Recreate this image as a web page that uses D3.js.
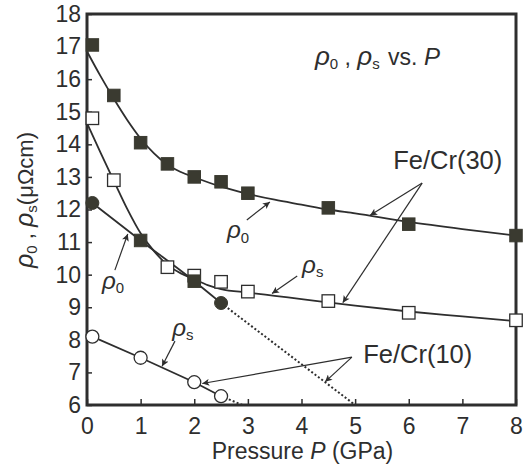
<!DOCTYPE html>
<html><head><meta charset="utf-8">
<script src="https://cdn.jsdelivr.net/npm/d3@7"></script>
<style>
html,body{margin:0;padding:0;background:#fff;}
svg{display:block;font-family:"Liberation Sans",Arial,sans-serif;}
</style></head>
<body>
<svg id="chart" width="523" height="466"></svg>
<script>
// ---------- data ----------
const pressureTicks = [0,1,2,3,4,5,6,7,8];
const rhoTicks = [6,7,8,9,10,11,12,13,14,15,16,17,18];

// Fe/Cr(30) rho0 (filled squares)
const fe30Rho0P = [0.1,0.5,1,1.5,2,2.5,3,4.5,6,8];
const fe30Rho0  = [17.05,15.5,14.05,13.4,13.0,12.85,12.5,12.05,11.55,11.2];
// Fe/Cr(30) rho0 fitted curve
const fe30Rho0FitP = [0,0.25,0.5,0.75,1,1.25,1.5,1.75,2,2.5,3,3.5,4,4.5,5,6,7,8];
const fe30Rho0Fit  = [16.85,16.1,15.4,14.75,14.18,13.72,13.37,13.15,12.99,12.7,12.48,12.3,12.15,12.0,11.88,11.62,11.4,11.2];

// Fe/Cr(30) rhoS (open squares)
const fe30RhoSP = [0.1,0.5,1.5,2,2.5,3,4.5,6,8];
const fe30RhoS  = [14.8,12.9,10.23,9.97,9.78,9.48,9.19,8.83,8.6];
// Fe/Cr(30) rhoS fitted curve
const fe30RhoSFitP = [0,0.25,0.5,0.75,1,1.25,1.5,1.75,2,2.25,2.5,3,3.5,4,5,6,7,8];
const fe30RhoSFit  = [14.65,13.75,12.88,12.02,11.27,10.72,10.3,10.04,9.86,9.68,9.56,9.45,9.35,9.25,9.05,8.87,8.72,8.57];

// Fe/Cr(10) rho0 (filled circles and filled squares)
const fe10Rho0CircP = [0.1,2.5];
const fe10Rho0Circ  = [12.2,9.13];
const fe10Rho0SqP   = [1,2];
const fe10Rho0Sq    = [11.05,9.8];
const fe10Rho0LineP = [0.1,1,2,2.5];
const fe10Rho0Line  = [12.2,11.05,9.8,9.13];
const fe10Rho0ExtP  = [2.5,5.0];
const fe10Rho0Ext   = [9.13,6.0];

// Fe/Cr(10) rhoS (open circles)
const fe10RhoSP  = [0.1,1,2,2.5];
const fe10RhoS   = [8.1,7.45,6.7,6.27];
const fe10RhoSExtP = [2.5,2.9];
const fe10RhoSExt  = [6.27,6.0];

// ---------- layout ----------
const svg = d3.select("#chart");
const x = d3.scaleLinear().domain([0,8]).range([87,516]);
const y = d3.scaleLinear().domain([6,18]).range([405,14]);
const ink = "#2e2e2e";
const fillDark = "#3a3a30";

const zip = (a,b)=>a.map((v,i)=>[v,b[i]]);

// arrow marker
svg.append("defs").append("marker")
  .attr("id","ah").attr("viewBox","0 0 10 10").attr("refX",10).attr("refY",5)
  .attr("markerWidth",9).attr("markerHeight",7).attr("markerUnits","userSpaceOnUse")
  .attr("orient","auto")
  .append("path").attr("d","M0,0 L10,5 L0,10 L2.5,5 Z").attr("fill",ink);

// axes
const xAxis = d3.axisBottom(x).tickValues(pressureTicks).tickSize(-6).tickPadding(13).tickFormat(d3.format("d"));
const yAxis = d3.axisLeft(y).tickValues(rhoTicks).tickSize(-5).tickPadding(6).tickFormat(d3.format("d"));
const gx = svg.append("g").attr("transform",`translate(0,${y(6)})`).call(xAxis);
const gy = svg.append("g").attr("transform",`translate(${x(0)},0)`).call(yAxis);
[gx,gy].forEach(g=>{
  g.select(".domain").remove();
  g.selectAll("line").attr("stroke",ink).attr("stroke-width",1.5);
  g.selectAll("text").attr("font-size",23).attr("fill",ink).attr("font-family","Liberation Sans, Arial, sans-serif");
});

// frame
svg.append("rect").attr("x",x(0)).attr("y",y(18)).attr("width",x(8)-x(0)).attr("height",y(6)-y(18))
  .attr("fill","none").attr("stroke",ink).attr("stroke-width",3);

// axis titles
const xt = svg.append("text").attr("x",(x(0)+x(8))/2+1).attr("y",459).attr("text-anchor","middle")
  .attr("font-size",23).attr("fill",ink);
xt.append("tspan").text("Pressure ");
xt.append("tspan").attr("font-style","italic").text("P");
xt.append("tspan").text(" (GPa)");

const yt = svg.append("text").attr("transform","translate(33,200) rotate(-90)").attr("text-anchor","middle")
  .attr("font-size",22).attr("fill",ink);
yt.append("tspan").attr("font-style","italic").attr("font-size",25).text("ρ");
yt.append("tspan").attr("font-size",15).attr("dy",4).text("0");
yt.append("tspan").attr("dy",-4).text(" , ");
yt.append("tspan").attr("font-style","italic").attr("font-size",25).text("ρ");
yt.append("tspan").attr("font-size",15).attr("dy",4).text("s");
yt.append("tspan").attr("dy",-4).text("(μΩcm)");

// lines
const line = d3.line().x(d=>x(d[0])).y(d=>y(d[1]));
const smooth = d3.line().x(d=>x(d[0])).y(d=>y(d[1])).curve(d3.curveMonotoneX);
const lineG = svg.append("g").attr("fill","none").attr("stroke",ink).attr("stroke-width",1.8);
lineG.append("path").attr("d",smooth(zip(fe30Rho0FitP,fe30Rho0Fit)));
lineG.append("path").attr("d",smooth(zip(fe30RhoSFitP,fe30RhoSFit)));
lineG.append("path").attr("d",smooth(zip(fe10Rho0LineP,fe10Rho0Line)));
lineG.append("path").attr("d",line(zip(fe10RhoSP,fe10RhoS)));
lineG.append("path").attr("d",line(zip(fe10Rho0ExtP,fe10Rho0Ext))).attr("stroke-dasharray","2,2.2").attr("stroke-width",2);
lineG.append("path").attr("d",line(zip(fe10RhoSExtP,fe10RhoSExt))).attr("stroke-dasharray","2,2.2").attr("stroke-width",2);

// markers
const sq = 12.5;
const mk = svg.append("g");
mk.selectAll(".s30").data(zip(fe30RhoSP,fe30RhoS)).join("rect")
  .attr("x",d=>x(d[0])-sq/2).attr("y",d=>y(d[1])-sq/2).attr("width",sq).attr("height",sq)
  .attr("fill","#fff").attr("stroke",ink).attr("stroke-width",1.3);
mk.selectAll(".r30").data(zip(fe30Rho0P,fe30Rho0)).join("rect")
  .attr("x",d=>x(d[0])-sq/2).attr("y",d=>y(d[1])-sq/2).attr("width",sq).attr("height",sq)
  .attr("fill",fillDark).attr("stroke",fillDark).attr("stroke-width",1);
mk.selectAll(".r10s").data(zip(fe10Rho0SqP,fe10Rho0Sq)).join("rect")
  .attr("x",d=>x(d[0])-sq/2).attr("y",d=>y(d[1])-sq/2).attr("width",sq).attr("height",sq)
  .attr("fill",fillDark).attr("stroke",fillDark).attr("stroke-width",1);
mk.selectAll(".r10c").data(zip(fe10Rho0CircP,fe10Rho0Circ)).join("circle")
  .attr("cx",d=>x(d[0])).attr("cy",d=>y(d[1])).attr("r",6.5)
  .attr("fill",fillDark).attr("stroke",fillDark).attr("stroke-width",1);
mk.selectAll(".s10").data(zip(fe10RhoSP,fe10RhoS)).join("circle")
  .attr("cx",d=>x(d[0])).attr("cy",d=>y(d[1])).attr("r",6.5)
  .attr("fill","#fff").attr("stroke",ink).attr("stroke-width",1.3);

// annotations (in data units)
function rhoLabel(px,py,sub,size){
  const t = svg.append("text").attr("x",x(px)).attr("y",y(py)).attr("font-size",size).attr("fill",ink);
  t.append("tspan").attr("font-style","italic").attr("font-size",size*1.1).text("ρ");
  t.append("tspan").attr("font-size",size*0.68).attr("dy",size*0.2).text(sub);
  return t;
}
function arrow(p0,r0,p1,r1){
  svg.append("line").attr("x1",x(p0)).attr("y1",y(r0)).attr("x2",x(p1)).attr("y2",y(r1))
    .attr("stroke",ink).attr("stroke-width",1.2).attr("marker-end","url(#ah)");
}
rhoLabel(2.61,11.12,"0",22); arrow(2.98,11.68,3.41,12.23);
rhoLabel(0.28,9.56,"0",22);  arrow(0.52,10.14,0.76,11.25);
rhoLabel(4.01,10.05,"s",22); arrow(3.92,9.96,3.45,9.42);
rhoLabel(1.59,8.12,"s",22);  arrow(1.64,7.96,1.40,7.19);

svg.append("text").attr("x",x(5.71)).attr("y",y(13.24)).attr("font-size",25.5).attr("fill",ink).text("Fe/Cr(30)");
arrow(6.25,12.81,5.28,11.82); arrow(6.25,12.81,4.77,9.14);
svg.append("text").attr("x",x(5.15)).attr("y",y(7.29)).attr("font-size",25.5).attr("fill",ink).text("Fe/Cr(10)");
arrow(4.94,7.47,4.44,6.71); arrow(4.94,7.47,2.15,6.66);

// title
const tt = svg.append("text").attr("x",x(4.25)).attr("y",y(16.43)).attr("font-size",23).attr("fill",ink);
tt.append("tspan").attr("font-style","italic").attr("font-size",26).text("ρ");
tt.append("tspan").attr("font-size",15).attr("dy",4).text("0");
tt.append("tspan").attr("dy",-4).text(" , ");
tt.append("tspan").attr("font-style","italic").attr("font-size",26).text("ρ");
tt.append("tspan").attr("font-size",15).attr("dy",4).text("s");
tt.append("tspan").attr("dy",-4).attr("dx",2).text(" vs. ");
tt.append("tspan").attr("font-style","italic").attr("font-size",24).text("P");
</script>
</body></html>
